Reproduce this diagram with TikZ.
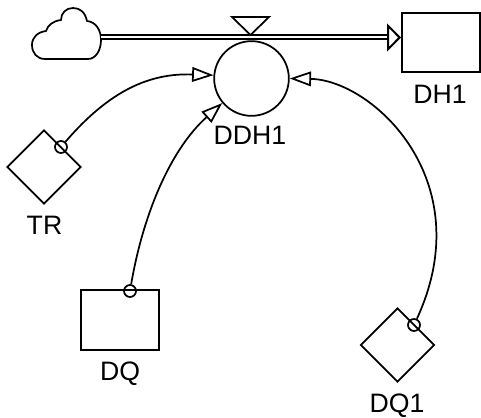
\documentclass[tikz,border=0pt]{standalone}
\usepackage{fontspec}
\setmainfont{Liberation Sans}
\usetikzlibrary{arrows.meta, shapes.geometric}
\tikzset{
  levelbox/.style={draw, line width=1.5pt, rectangle, inner sep=0pt, minimum width=58.5pt, minimum height=44.5pt},
  auxcircle/.style={draw, line width=1.3pt, circle, inner sep=0pt, minimum size=56pt},
  constdiamond/.style={draw, line width=1.3pt, diamond, inner sep=0pt, minimum width=55.5pt, minimum height=55.5pt},
  linkdot/.style={draw, line width=1.3pt, circle, inner sep=0pt, minimum size=9pt},
  linkarrow/.style={line width=1.3pt, -{Triangle[open, length=16pt, width=11pt, line width=1.3pt]}},
  flowarrow/.style={double, double distance=1.5pt, line width=1.5pt, -{Triangle[open, length=10.5pt, width=21pt, line width=1.5pt]}},
  varlabel/.style={inner sep=0pt, font=\fontsize{20}{24}\selectfont}
}
\begin{document}
\begin{tikzpicture}[x=0.75pt,y=0.75pt,yscale=-1,xscale=1]
\useasboundingbox (0,0) rectangle (481,417);

%Shape: Cloud
\draw [line width=1.3pt, line join=round] (45,59) -- (88,59) .. controls (96,59) and (101,50) .. (101,40) .. controls (101,30) and (96,22) .. (87,21) .. controls (85,12) and (80,8) .. (73,8) .. controls (66,8) and (61,13) .. (61,20) .. controls (53,21) and (48,25) .. (46,31) .. controls (38,32) and (32,37) .. (32,45) .. controls (32,53) and (37,59) .. (45,59) -- cycle;
\coordinate (cloudout) at (101,37.5);

% Stock and auxiliary nodes
\draw (441,42.5) node (dhbox) [levelbox] {};
\draw (119.5,320) node (dqbox) [levelbox] {};
\draw (251.5,78.5) node (ddhcirc) [auxcircle] {};
\draw (44,167) node (trdiam) [constdiamond] {};
\draw (397.5,345) node (dqonediam) [constdiamond] {};

%Straight Lines: flow
\draw [flowarrow] (cloudout) -- (cloudout -| dhbox.west);
%Shape: Valve
\draw [line width=1.3pt, line join=miter] (232,17) -- (269,17) -- (250.5,35) -- cycle;

% Link dots
\draw (61,147) node (trdot) [linkdot] {};
\draw (130,291) node (dqdot) [linkdot] {};
\draw (414,325) node (dqonedot) [linkdot] {};

%Curve Lines
\draw [linkarrow] (trdot) .. controls (110,90) and (150,73) .. (ddhcirc.175);
\draw [linkarrow] (dqdot) .. controls (143,215) and (170,150) .. (ddhcirc.220);
\draw [linkarrow] (dqonedot) .. controls (481,180) and (372,80) .. (ddhcirc.0);

% Text Node
\draw (250,135.5) node (ddhlabel) [varlabel] {DDH1};
% Text Node
\draw (440,94.5) node (dhlabel) [varlabel] {DH1};
% Text Node
\draw (44.5,225.5) node (trlabel) [varlabel] {TR};
% Text Node
\draw (120,374) node (dqlabel) [varlabel] {DQ};
% Text Node
\draw (397,405.5) node (dqonelabel) [varlabel] {DQ1};

\end{tikzpicture}
\end{document}
